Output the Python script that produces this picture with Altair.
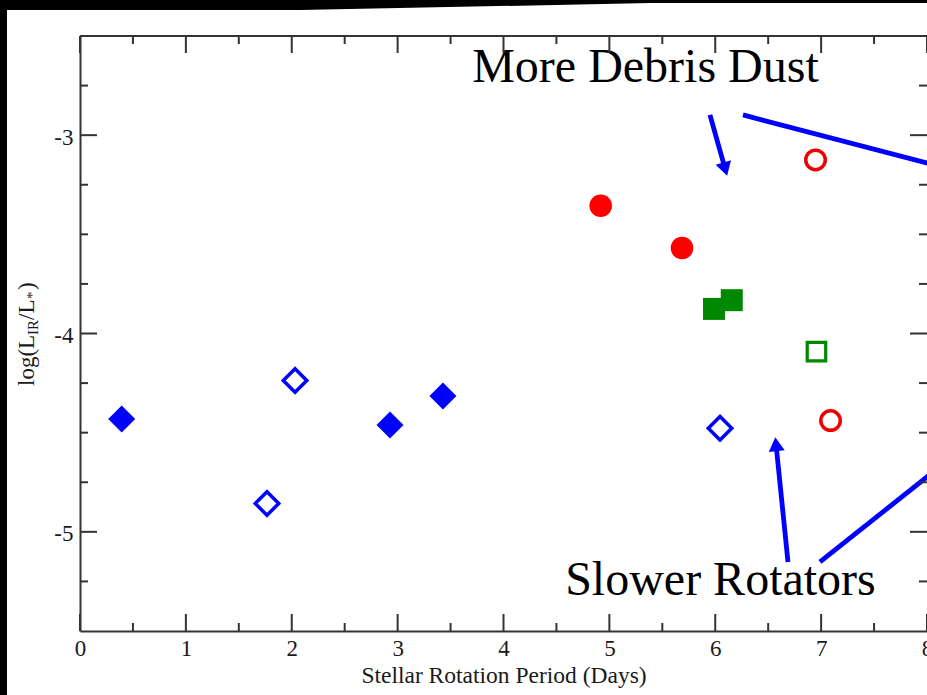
import altair as alt
import pandas as pd

# ---------------- data ----------------
blue_filled_x = [0.394, 2.928, 3.428]
blue_filled_y = [-4.431, -4.461, -4.315]
blue_open_x = [1.766, 2.031, 6.045]
blue_open_y = [-4.857, -4.237, -4.478]
red_filled_x = [4.918, 5.686]
red_filled_y = [-3.356, -3.569]
green_filled_x = [5.988, 6.156]
green_filled_y = [-3.876, -3.832]
green_open_x = [6.956]
green_open_y = [-4.091]
red_open_x = [6.947, 7.089]
red_open_y = [-3.125, -4.439]

x_major = [0, 1, 2, 3, 4, 5, 6, 7, 8]
x_minor = [0.5, 1.5, 2.5, 3.5, 4.5, 5.5, 6.5, 7.5]
y_major = [-5, -4, -3]
y_minor = [-5.25, -4.75, -4.5, -4.25, -3.75, -3.5, -3.25, -2.75]

# annotation lines (data units): start x, start y, end x, end y
ann_x1 = [5.950, 6.262, 6.687, 6.989]
ann_y1 = [-2.898, -2.898, -5.152, -5.152]
ann_x2 = [6.094, 8.300, 6.574, 8.311]
ann_y2 = [-3.171, -3.182, -4.558, -4.591]
head1_x, head1_y = [6.094], [-3.171]
head2_x, head2_y = [6.574], [-4.558]
label_text = ["More Debris Dust", "Slower Rotators"]
label_x = [5.341, 6.049]
label_y = [-2.732, -5.319]

# dark screenshot border along the top (data units, tapering)
border_x = [-0.76, 2.078, 5.384, 8.0]
border_top = [-2.30, -2.30, -2.30, -2.30]
border_bottom = [-2.369, -2.369, -2.334, -2.334]

W, H = 847, 595
FONT = "Liberation Serif"
AX = "#333333"

xs = alt.Scale(domain=[0, 8], nice=False, zero=False)
ys = alt.Scale(domain=[-5.5, -2.5], nice=False, zero=False)


def pts(xv, yv):
    return alt.Chart(pd.DataFrame({"x": xv, "y": yv}))


def enc(ch):
    return ch.encode(x=alt.X("x:Q", scale=xs), y=alt.Y("y:Q", scale=ys))


base = alt.Chart(pd.DataFrame({"x": blue_filled_x, "y": blue_filled_y})).mark_point(
    shape="diamond", filled=True, size=729, color="#0000ff", opacity=1
).encode(
    x=alt.X("x:Q", scale=xs, title="Stellar Rotation Period (Days)",
            axis=alt.Axis(values=x_major, grid=False, ticks=False, tickSize=0,
                          domain=True, domainColor=AX, domainWidth=2,
                          labelFont=FONT, labelFontSize=23, labelColor="#1a1a1a",
                          labelBaseline="alphabetic", labelPadding=24,
                          labelFlush=False, labelOverlap=False,
                          labelExpr="'' + datum.value",
                          titleFont=FONT, titleFontSize=23.5, titleFontWeight="normal",
                          titleColor="#1a1a1a", titleBaseline="alphabetic", titleY=51)),
    y=alt.Y("y:Q", scale=ys, title=None,
            axis=alt.Axis(values=y_major, grid=False, ticks=False, tickSize=0,
                          domain=True, domainColor=AX, domainWidth=2,
                          labelFont=FONT, labelFontSize=23, labelColor="#1a1a1a",
                          labelPadding=7, labelOffset=2,
                          labelExpr="'' + datum.value")),
)

layers = [base]

layers.append(enc(pts(blue_open_x, blue_open_y).mark_point(
    shape="diamond", filled=False, size=552, color="#0000ff", strokeWidth=3.5, opacity=1)))
layers.append(enc(pts(red_filled_x, red_filled_y).mark_point(
    shape="circle", filled=True, size=511, color="#ff0000", opacity=1)))
layers.append(enc(pts(green_filled_x, green_filled_y).mark_point(
    shape="square", filled=True, size=484, color="#008800", opacity=1)))
layers.append(enc(pts(green_open_x, green_open_y).mark_point(
    shape="square", filled=False, size=342, color="#008800", strokeWidth=3.2, opacity=1)))
layers.append(enc(pts(red_open_x, red_open_y).mark_point(
    shape="circle", filled=False, size=380, color="#ee0000", strokeWidth=3.5, opacity=1)))

# annotation lines
ann = pd.DataFrame({"x": ann_x1, "y": ann_y1, "x2": ann_x2, "y2": ann_y2})
layers.append(alt.Chart(ann).mark_rule(color="#0000ff", strokeWidth=4.8, clip=False).encode(
    x=alt.X("x:Q", scale=xs), y=alt.Y("y:Q", scale=ys), x2="x2:Q", y2="y2:Q"))
layers.append(enc(pts(head1_x, head1_y).mark_point(
    shape="triangle-up", filled=True, size=256, color="#0000ff", angle=164, opacity=1)))
layers.append(enc(pts(head2_x, head2_y).mark_point(
    shape="triangle-up", filled=True, size=256, color="#0000ff", angle=354, opacity=1)))

lab = pd.DataFrame({"x": label_x, "y": label_y, "t": label_text})
layers.append(alt.Chart(lab).mark_text(
    font=FONT, fontSize=48, color="#000000", align="center", baseline="alphabetic"
).encode(x=alt.X("x:Q", scale=xs), y=alt.Y("y:Q", scale=ys), text="t:N"))

# frame: top line
layers.append(alt.Chart(pd.DataFrame({"a": [0]})).mark_rule(color=AX, strokeWidth=2).encode(
    x=alt.value(0), x2=alt.value(W), y=alt.value(0)))

# inward ticks
def xt(vals, y0, y1):
    return alt.Chart(pd.DataFrame({"x": vals})).mark_rule(color=AX, strokeWidth=2).encode(
        x=alt.X("x:Q", scale=xs), y=alt.value(y0), y2=alt.value(y1))


def yt(vals, x0, x1):
    return alt.Chart(pd.DataFrame({"y": vals})).mark_rule(color=AX, strokeWidth=2).encode(
        y=alt.Y("y:Q", scale=ys), x=alt.value(x0), x2=alt.value(x1))


layers += [xt(x_major, H, H - 17), xt(x_minor, H, H - 8),
           xt(x_major, 0, 17), xt(x_minor, 0, 8),
           yt(y_major, 0, 17), yt(y_minor, 0, 8),
           yt(y_major, W, W - 17), yt(y_minor, W, W - 8)]

# y-axis title with subscripts
one = pd.DataFrame({"a": [0]})
title_parts = [("log(L", 23, 34, 386), ("IR", 15, 38, 335), ("/L", 23, 34, 320),
               ("*", 15, 37, 299), (")", 23, 34, 290)]
for txt, fs, px, py in title_parts:
    layers.append(alt.Chart(one).mark_text(
        text=txt, font=FONT, fontSize=fs, color="#1a1a1a", angle=270,
        align="left", baseline="alphabetic"
    ).encode(x=alt.value(px - 80), y=alt.value(py - 36)))

# black border strips of the original screenshot
bd = pd.DataFrame({"x": border_x, "y": border_top, "y2": border_bottom})
layers.append(alt.Chart(bd).mark_area(color="black", clip=False, opacity=1).encode(
    x=alt.X("x:Q", scale=xs), y=alt.Y("y:Q", scale=ys), y2="y2:Q"))
layers.append(alt.Chart(one).mark_rect(color="black", clip=False).encode(
    x=alt.value(-80), x2=alt.value(-73), y=alt.value(-36), y2=alt.value(H + 64)))

chart = alt.layer(*layers).properties(
    width=W, height=H,
    padding={"left": 80, "top": 36, "right": 0, "bottom": 64},
    autosize=alt.AutoSizeParams(type="none"),
    background="white",
).configure_view(stroke=None)

chart.save("out.html", embed_options={"renderer": "svg", "actions": False})
